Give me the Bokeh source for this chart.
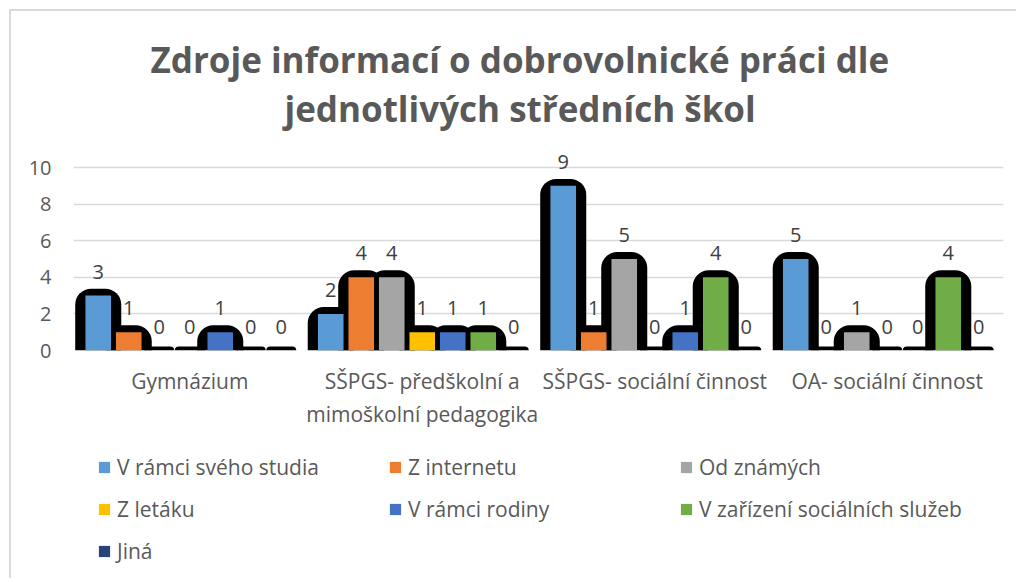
from bokeh.plotting import figure
from bokeh.layouts import column
from bokeh.models import (ColumnDataSource, FactorRange, Range1d, Title, Legend,
                          LegendItem, FixedTicker)
from bokeh.transform import dodge
from bokeh.core.properties import value
from bokeh.embed import file_html
from bokeh.resources import INLINE

categories = ["Gymnázium", "SŠPGS- předškolní a\nmimoškolní pedagogika",
              "SŠPGS- sociální činnost", "OA- sociální činnost"]
series_names = ["V rámci svého studia", "Z internetu", "Od známých", "Z letáku",
                "V rámci rodiny", "V zařízení sociálních služeb", "Jiná"]
v_ramci_studia = [3, 2, 9, 5]
z_internetu = [1, 4, 1, 0]
od_znamych = [0, 4, 5, 1]
z_letaku = [0, 1, 0, 0]
v_ramci_rodiny = [1, 1, 1, 0]
v_zarizeni = [0, 1, 4, 4]
jina = [0, 0, 0, 0]
series_values = [v_ramci_studia, z_internetu, od_znamych, z_letaku,
                 v_ramci_rodiny, v_zarizeni, jina]
colors = ["#5B9BD5", "#ED7D31", "#A5A5A5", "#FFC000", "#4472C4", "#70AD47", "#264478"]
y_ticks = [0, 2, 4, 6, 8, 10]
title_line1 = "Zdroje informací o dobrovolnické práci dle"
title_line2 = "jednotlivých středních škol"

FONT = "Open Sans"
TXT = "#595959"
W = 1005

p = figure(width=W, height=429, x_range=FactorRange(*categories),
           y_range=Range1d(0, 11.97), output_backend="svg", toolbar_location=None,
           min_border_left=62, min_border_right=13, min_border_top=120,
           min_border_bottom=90)
p.outline_line_color = None
p.background_fill_color = "white"

p.add_layout(Title(text=title_line2, align="left", offset=211, text_font=FONT,
                   text_font_size="35px", text_font_style="bold", text_color=TXT,
                   standoff=0), "above")
p.add_layout(Title(text=title_line1, align="left", offset=77, text_font=FONT,
                   text_font_size="35px", text_font_style="bold", text_color=TXT,
                   standoff=0), "above")

pitch = 0.1312
src = {"cat": categories}
for i, vals in enumerate(series_values):
    src[f"v{i}"] = vals
    src[f"s{i}"] = [v + 0.38 if v > 0 else 0.22 for v in vals]
    src[f"w{i}"] = [0.198 if v > 0 else 0.129 for v in vals]
source = ColumnDataSource(src)

# black rounded "shadow" shapes behind the bars
for i in range(len(series_values)):
    off = (i - 3) * pitch
    p.vbar(x=dodge("cat", off, range=p.x_range), top=f"s{i}", bottom=0, width=f"w{i}",
           source=source, fill_color="black", line_color=None,
           border_radius=(16, 16, 0, 0))

for i, vals in enumerate(series_values):
    off = (i - 3) * pitch
    p.vbar(x=dodge("cat", off, range=p.x_range), top=f"v{i}", bottom=0, width=0.11,
           source=source, fill_color=colors[i], line_color=None)
    p.text(x=dodge("cat", off, range=p.x_range), y=f"v{i}", text=f"v{i}", source=source,
           text_align="center", text_baseline="middle", y_offset=-24,
           text_font=value(FONT), text_font_size="20px", text_color="#404040")

p.xgrid.grid_line_color = None
p.ygrid.grid_line_color = "#D9D9D9"
p.ygrid.grid_line_width = 1.5
p.yaxis.ticker = FixedTicker(ticks=y_ticks)
p.yaxis.axis_line_color = None
p.yaxis.major_tick_line_color = None
p.yaxis.minor_tick_line_color = None
p.yaxis.major_label_standoff = 16
p.yaxis.major_label_text_font = FONT
p.yaxis.major_label_text_font_size = "20px"
p.yaxis.major_label_text_color = TXT

p.xaxis.axis_line_color = None
p.xaxis.major_tick_line_color = None
p.xaxis.major_label_standoff = 10
p.xaxis.major_label_text_font = FONT
p.xaxis.major_label_text_font_size = "21px"
p.xaxis.major_label_text_color = TXT

# legend panel (separate, so the grid of entries is laid out exactly)
lg = figure(width=W, height=138, x_range=Range1d(0, 1), y_range=Range1d(0, 1),
            output_backend="svg", toolbar_location=None, min_border=0)
lg.outline_line_color = None
lg.axis.visible = False
lg.grid.grid_line_color = None
swatches = [lg.vbar(x=[0.5], top=[0], bottom=[0], width=0.01, fill_color=c,
                    line_color=None) for c in colors]
dummy = lg.vbar(x=[], top=[], width=0.01, fill_alpha=0, line_alpha=0)

def item(i):
    return LegendItem(label=series_names[i], renderers=[swatches[i]])

items = [item(0), item(3), item(6),
         item(1), item(4), LegendItem(label=" ", renderers=[dummy]),
         item(2), item(5)]
legend = Legend(items=items, orientation="vertical", nrows=3, location=(24, 13),
                glyph_width=14, glyph_height=14, label_width=257, label_height=24,
                label_standoff=6, spacing=14, margin=0, padding=0,
                label_text_font=FONT, label_text_font_size="21px",
                label_text_color=TXT, border_line_color=None,
                background_fill_alpha=0)
lg.add_layout(legend, "center")

layout = column(p, lg, spacing=0,
                styles={"margin-left": "9px", "margin-top": "9px",
                        "border-left": "2px solid #D9D9D9",
                        "border-top": "2px solid #D9D9D9"})

open("out.html", "w").write(file_html(layout, INLINE))
